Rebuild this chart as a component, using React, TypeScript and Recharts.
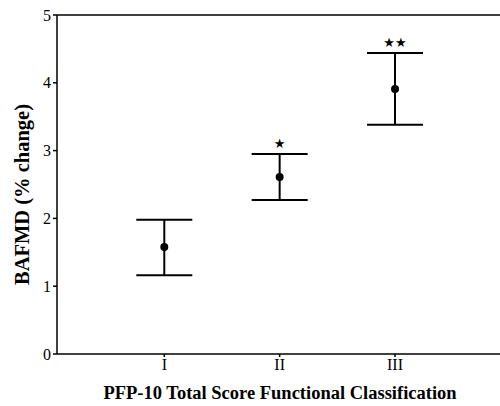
import React from "react";
import { ScatterChart, Scatter, XAxis, YAxis, ErrorBar, ReferenceLine } from "recharts";

const classes = [1, 2, 3];
const classLabels = ["I", "II", "III"];
const means = [1.58, 2.61, 3.91];
const lowers = [1.16, 2.27, 3.38];
const uppers = [1.98, 2.95, 4.44];
const significance = ["", "★", "★★"];
const yTicks = [0, 1, 2, 3, 4, 5];

const data = classes.map((c, i) => ({
  x: c,
  y: means[i],
  err: [means[i] - lowers[i], uppers[i] - means[i]],
}));

const sigData = classes.map((c, i) => ({ x: c, y: uppers[i], sig: significance[i] }));

const FONT = "'Liberation Serif', 'Times New Roman', serif";

const Dot = (props: any) => {
  const { cx, cy } = props;
  if (cx == null || cy == null) return null;
  return <circle cx={cx} cy={cy} r={4} fill="#000" />;
};

const Star = (props: any) => {
  const { cx, cy, payload } = props;
  if (cx == null || cy == null || !payload?.sig) return <g />;
  return (
    <text x={cx} y={cy - 6} textAnchor="middle" fontFamily="'DejaVu Sans', sans-serif" fontSize={13} fill="#000">
      {payload.sig}
    </text>
  );
};

const YTitle = (props: any) => {
  const vb = props.viewBox || {};
  const cy = vb.y + vb.height / 2 + 10;
  return (
    <text x={22} y={cy} transform={`rotate(-90, 22, ${cy})`} textAnchor="middle" dominantBaseline="central"
      fontFamily={FONT} fontSize={20.5} fontWeight="bold" fill="#000">
      BAFMD (% change)
    </text>
  );
};

const XTitle = (props: any) => {
  const vb = props.viewBox || {};
  return (
    <text x={280} y={vb.y + 45} textAnchor="middle" fontFamily={FONT} fontSize={18.5} fontWeight="bold" fill="#000">
      PFP-10 Total Score Functional Classification
    </text>
  );
};

export default function App() {
  return (
    <div style={{ position: "absolute", left: 0, top: 0, background: "#fff" }}>
      <ScatterChart width={500} height={406} margin={{ top: 15, right: 0, bottom: 0, left: 0 }}>
        <XAxis
          type="number"
          dataKey="x"
          domain={[0.07, 3.91]}
          ticks={classes}
          tickFormatter={(v: number) => classLabels[classes.indexOf(v)] ?? ""}
          height={52}
          stroke="#000"
          strokeWidth={1.5}
          tickSize={3}
          tick={{ fill: "#000", fontFamily: FONT, fontSize: 16 }}
          allowDataOverflow
          label={<XTitle />}
        />
        <YAxis
          type="number"
          dataKey="y"
          domain={[0, 5]}
          ticks={yTicks}
          width={57}
          stroke="#000"
          strokeWidth={1.5}
          tickSize={4}
          tick={{ fill: "#000", fontFamily: FONT, fontSize: 16 }}
          label={<YTitle />}
        />
        <ReferenceLine y={5} stroke="#000" strokeWidth={1.5} />
        <Scatter data={data} fill="#000" shape={<Dot />} isAnimationActive={false}>
          <ErrorBar dataKey="err" direction="y" width={28} stroke="#000" strokeWidth={2} />
        </Scatter>
        <Scatter data={sigData} fill="#000" shape={<Star />} isAnimationActive={false} />
      </ScatterChart>
    </div>
  );
}
